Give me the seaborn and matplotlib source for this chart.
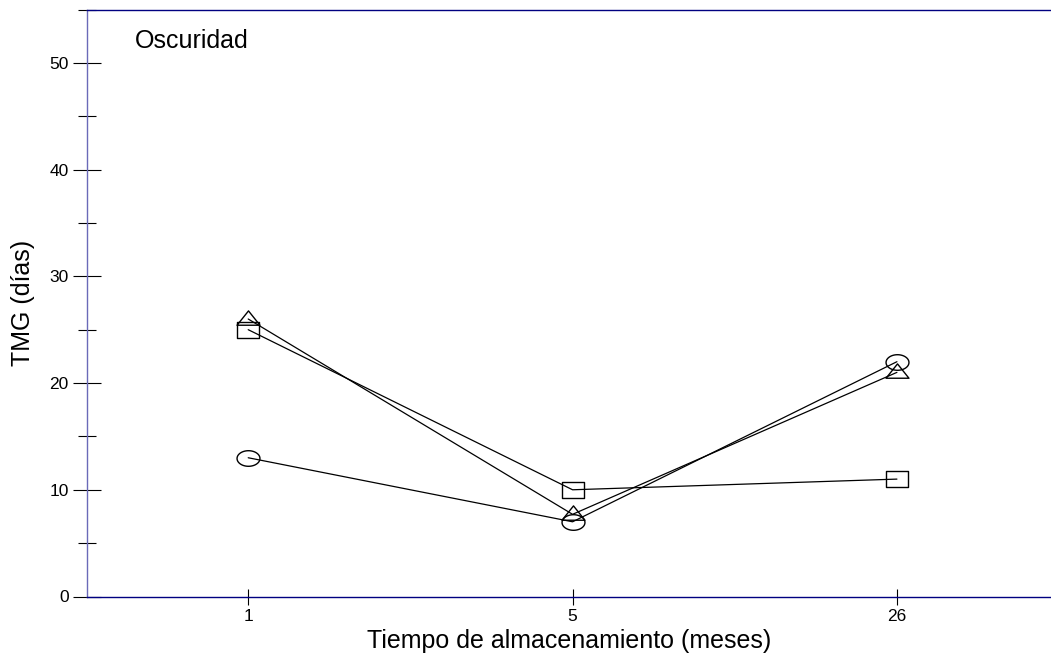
import numpy as np
import pandas as pd
import matplotlib
matplotlib.use("Agg")
import matplotlib.pyplot as plt
from matplotlib.path import Path
from matplotlib.ticker import MultipleLocator
import seaborn as sns

# Storage time categories (months) and germination time series (days)
meses = ["1", "5", "26"]
serie_circulo = [13, 7, 22]
serie_triangulo = [26, 7.7, 21]
serie_cuadrado = [25, 10, 11]

sns.set_theme(style="white")
plt.rcParams["font.family"] = ["Liberation Sans", "DejaVu Sans"]

# Horizontally stretched open markers
t = np.linspace(0, 2 * np.pi, 60)
elipse = Path(np.column_stack([np.cos(t), 0.68 * np.sin(t)]), closed=True)
rect = Path([(-1, -0.66), (1, -0.66), (1, 0.66), (-1, 0.66), (-1, -0.66)], closed=True)
tri = Path([(-1, -0.5), (1, -0.5), (0, 0.75), (-1, -0.5)], closed=True)

pos = np.arange(len(meses))
df = pd.concat([
    pd.DataFrame({"x": pos, "y": serie_circulo, "s": "c"}),
    pd.DataFrame({"x": pos, "y": serie_triangulo, "s": "t"}),
    pd.DataFrame({"x": pos, "y": serie_cuadrado, "s": "q"}),
])

fig = plt.figure(figsize=(10.51, 6.62), dpi=100)
ax = fig.add_axes([87 / 1051, 65.5 / 662, 964 / 1051, 587 / 662])

for key, mk in [("c", elipse), ("t", tri), ("q", rect)]:
    sns.lineplot(data=df[df.s == key], x="x", y="y", ax=ax, color="black",
                 linewidth=0.9, marker=mk, markersize=16.5, markerfacecolor="none",
                 markeredgecolor="black", markeredgewidth=1.0, legend=False)

ax.set_xlim(-0.497, 2.475)
ax.set_ylim(0, 55)
ax.set_xticks(pos)
ax.set_xticklabels(meses)
ax.yaxis.set_major_locator(MultipleLocator(10))
ax.yaxis.set_minor_locator(MultipleLocator(5))

ax.tick_params(axis="y", which="major", direction="inout", length=19.5, width=0.8,
               color="black", labelcolor="black", labelsize=12.5, pad=3.5, left=True)
ax.tick_params(axis="y", which="minor", direction="inout", length=13, width=0.8,
               color="black", left=True)
ax.tick_params(axis="x", which="major", direction="inout", length=11.5, width=0.8,
               color="black", labelcolor="black", labelsize=12.5, pad=3.5, bottom=True)

ax.set_xlabel("Tiempo de almacenamiento (meses)", fontsize=18, labelpad=3, color="black")
ax.set_ylabel("TMG (días)", fontsize=18, labelpad=10, color="black")

for side in ["top", "bottom"]:
    ax.spines[side].set_color("#000080")
    ax.spines[side].set_linewidth(1.0)
ax.spines["left"].set_color("#6a6ab8")
ax.spines["left"].set_linewidth(1.0)
ax.spines["right"].set_visible(False)

ax.text(0.05, 0.934, "Oscuridad", transform=ax.transAxes, fontsize=18,
        ha="left", va="baseline", color="black")

fig.savefig("out.png", dpi=100)
